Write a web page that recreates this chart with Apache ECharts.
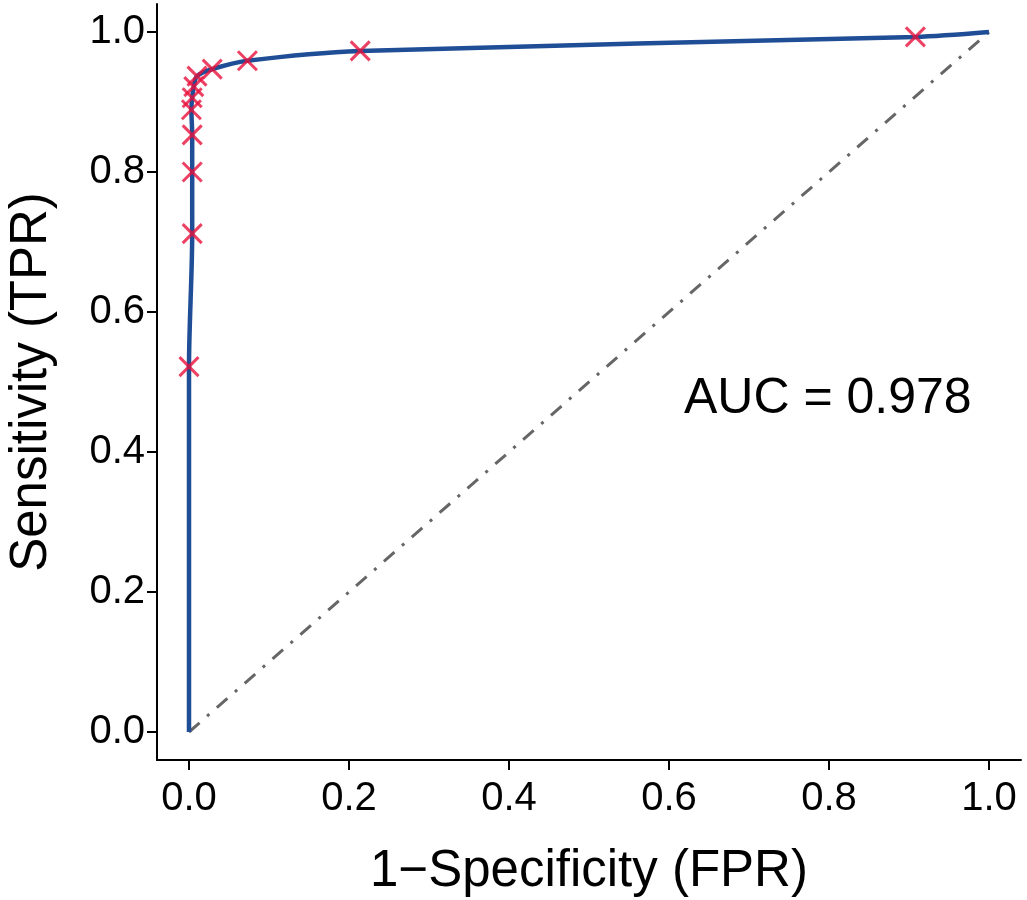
<!DOCTYPE html>
<html>
<head>
<meta charset="utf-8">
<title>ROC curve</title>
<script src="https://cdn.jsdelivr.net/npm/echarts@6/dist/echarts.min.js"></script>
<style>
  html, body { margin: 0; padding: 0; background: #fff; }
  #chart { width: 1027px; height: 900px; }
</style>
</head>
<body>
<div id="chart"></div>
<script>
// ROC curve points (FPR, TPR)
const fpr = [0, 0.000, 0.004, 0.004, 0.004, 0.003, 0.004, 0.006, 0.010, 0.029, 0.073, 0.214, 0.908, 1];
const tpr = [0, 0.522, 0.712, 0.800, 0.853, 0.889, 0.906, 0.922, 0.937, 0.947, 0.959, 0.973, 0.993, 1];
// which points carry a cross marker (the end points do not)
const marked = [false, true, true, true, true, true, true, true, true, true, true, true, true, false];
const tickValues = [0, 0.2, 0.4, 0.6, 0.8, 1.0];
const aucLabel = 'AUC = 0.978';

const FONT = '"Liberation Sans", Arial, Helvetica, sans-serif';
const BLUE = '#1f4e96';
const RED = '#e8123c';

const curve = fpr.map((x, i) => [x, tpr[i]]);
const crosses = curve.filter((p, i) => marked[i]);

const chart = echarts.init(document.getElementById('chart'), null, { renderer: 'canvas' });

function axisCommon(name, gap) {
  return {
    type: 'value',
    min: -0.04,
    max: 1.04,
    name: name,
    nameLocation: 'middle',
    nameGap: gap,
    nameTextStyle: { fontFamily: FONT, fontSize: 51, color: '#000' },
    axisLine: { show: true, onZero: false, lineStyle: { color: '#000', width: 2 } },
    axisTick: {
      show: true, inside: false, length: 10,
      customValues: tickValues,
      lineStyle: { color: '#000', width: 2 }
    },
    axisLabel: {
      show: true,
      customValues: tickValues,
      fontFamily: FONT, fontSize: 40, color: '#000',
      formatter: v => v.toFixed(1)
    },
    splitLine: { show: false }
  };
}

const xAxis = axisCommon('1\u2212Specificity (FPR)', 86);
xAxis.axisLabel.margin = 19;
const yAxis = axisCommon('Sensitivity (TPR)', 100);
yAxis.axisLabel.margin = 12;

const option = {
  backgroundColor: '#fff',
  animation: false,
  grid: {
    left: 157, right: 6, top: 4, bottom: 140,
    containLabel: false,
    outerBoundsMode: 'none'
  },
  xAxis: xAxis,
  yAxis: yAxis,
  series: [
    {
      name: 'chance',
      type: 'line',
      data: [[0, 0], [1, 1]],
      symbol: 'none',
      lineStyle: { color: '#666', width: 3, type: [14, 10, 3, 10] },
      z: 1
    },
    {
      name: 'ROC',
      type: 'line',
      data: curve,
      smooth: 0.3,
      symbol: 'none',
      lineStyle: { color: BLUE, width: 4.5 },
      z: 2
    },
    {
      name: 'cutoffs',
      type: 'scatter',
      data: crosses,
      symbol: 'path://M0,0L10,10M10,0L0,10',
      symbolSize: 19,
      itemStyle: { color: 'transparent', borderColor: RED, borderWidth: 3 },
      z: 3
    }
  ],
  graphic: [
    {
      type: 'text',
      left: 684,
      top: 374,
      style: { text: aucLabel, fontFamily: FONT, fontSize: 50, fill: '#000' }
    }
  ]
};

chart.setOption(option);
window.addEventListener('resize', () => chart.resize());
</script>
</body>
</html>
